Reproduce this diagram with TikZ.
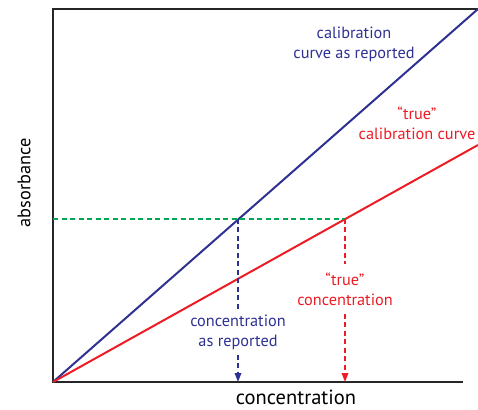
\documentclass[tikz,border=0pt]{standalone}
\usepackage{fontspec}
\setmainfont{PT Sans}
\usetikzlibrary{arrows.meta}
\definecolor{cblue}{HTML}{2E3192}
\definecolor{cred}{HTML}{ED1C24}
\definecolor{cgreen}{HTML}{00A651}
\begin{document}
\begin{tikzpicture}[x=1pt,y=1pt,
  frame/.style={line width=1.1pt,draw=black!85},
  curve/.style={line width=2pt},
  dsh/.style={line width=1.6pt,dash pattern=on 5pt off 3.5pt},
  tip/.style={-{Triangle[length=9pt,width=6.5pt]}},
  lab/.style={font=\fontsize{16.3}{20}\selectfont,align=center,inner sep=0pt}]
\useasboundingbox (0,0) rectangle (478,409);
% coordinates
\coordinate (O) at (53,27);
\coordinate (TL) at (53,400);
\coordinate (TR) at (478,400);
\coordinate (BR) at (463,27);
\coordinate (Bend) at (478,400);
\coordinate (Rend) at (478,264);
\coordinate (G0) at (53,190);
\coordinate (Pb) at (238,190);
\coordinate (Pr) at (345,190);
\coordinate (Ab) at (238,27);
\coordinate (Ar) at (345,27);
% frame
\draw[frame] (TR) -- (TL) -- (O) -- (BR);
% curves
\draw[curve,cblue] (O) -- (Bend);
\draw[curve,cred] (O) -- (Rend);
% labels
\node[lab,text=cblue] (lb1) at (354,365) {calibration\\curve as reported};
\node[lab,text=cred] (lr1) at (417,286) {“true”\\calibration curve};
\node[lab,text=cred] (lr2) at (345,120) {“true”\\concentration};
\node[lab,text=cblue] (lb2) at (238,77) {concentration\\as reported};
\node[font=\fontsize{20.5}{24}\selectfont,inner sep=0pt,anchor=base] (xl) at (296,5) {concentration};
\node[font=\fontsize{18.3}{22}\selectfont,inner sep=0pt,rotate=90] (yl) at (24,226) {absorbance};
% dashed
\draw[dsh,cgreen] (G0) -- (Pr);
\draw[dsh,cblue] (Pb) -- ([yshift=4pt]lb2.north);
\draw[dsh,cblue,tip] ([yshift=-5pt]lb2.south) -- (Ab);
\draw[dsh,cred] (Pr) -- ([yshift=8pt]lr2.north);
\draw[dsh,cred,tip] ([yshift=-8pt]lr2.south) -- (Ar);
\end{tikzpicture}
\end{document}
